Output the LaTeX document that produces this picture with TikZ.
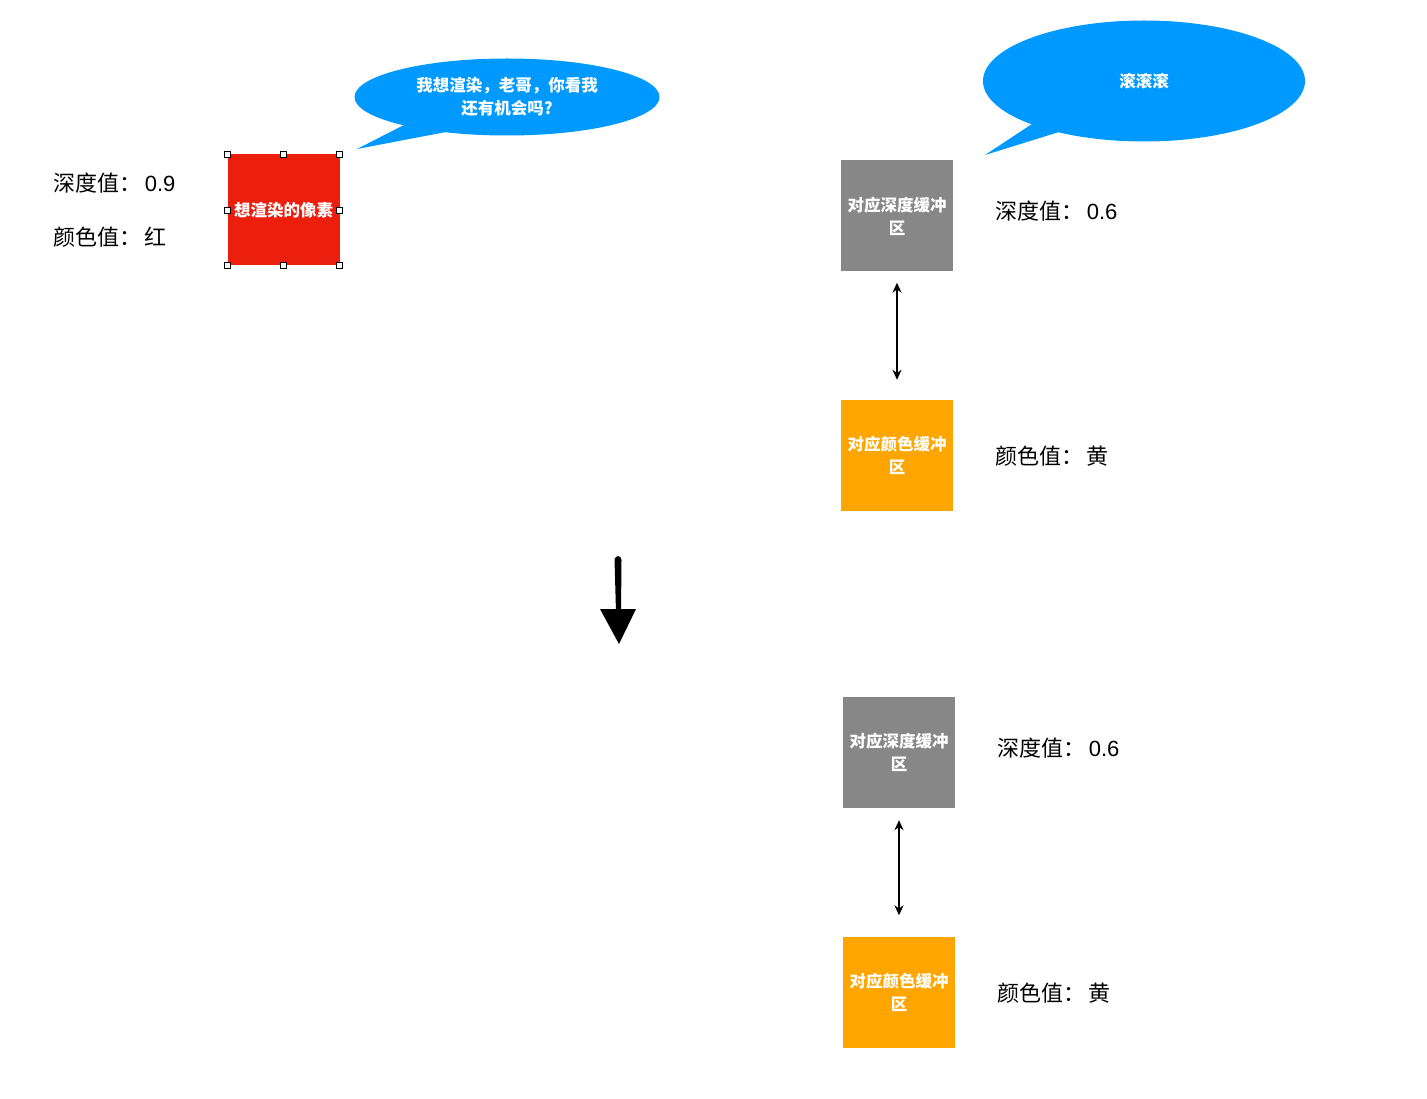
\documentclass[tikz,border=0pt]{standalone}
\usepackage{fontspec}
\setmainfont{Noto Sans CJK SC}
\newfontfamily\digitfont{Liberation Sans}
\usetikzlibrary{shapes.geometric,arrows.meta}
\definecolor{pxred}{HTML}{EC1F0E}
\definecolor{bubblue}{HTML}{0099FF}
\definecolor{bufgray}{HTML}{878787}
\definecolor{buforange}{HTML}{FFA500}
\tikzset{
  buf/.style={minimum width=112pt,minimum height=111pt,inner sep=0pt,align=center,
    text=white,font=\fontsize{16.5}{23}\selectfont\bfseries},
  graybuf/.style={buf,fill=bufgray},
  orangebuf/.style={buf,fill=buforange},
  redbox/.style={buf,fill=pxred},
  val/.style={anchor=west,inner sep=0pt,font=\fontsize{22}{26}\selectfont},
  bubble/.style={ellipse,fill=bubblue,inner sep=0pt,align=center,text=white,
    font=\fontsize{16.5}{23}\selectfont\bfseries},
  handle/.style={draw=black,fill=white,line width=0.9pt,minimum size=6pt,inner sep=0pt},
  dblarrow/.style={{Stealth[length=10pt,width=9pt]}-{Stealth[length=10pt,width=9pt]},line width=1.5pt}
}
\begin{document}
\begin{tikzpicture}[x=1pt,y=-1pt]
\useasboundingbox (0,0) rectangle (1427,1099);
\fill[white] (0,0) rectangle (1427,1099);

% left labels
\node[val] (d09) at (53,183) {深度值：\,{\digitfont 0.9}};
\node[val] (cred) at (53,237) {颜色值：\,红};

% red pixel box
\node[redbox] (px) at (283.5,210) {想渲染的像素};
\foreach \a in {north west,north,north east,west,east,south west,south,south east}
  \node[handle] (h-\a) at (px.\a) {};

% bubble 1
\fill[bubblue] (404,125) -- (357,149) -- (446,132) -- (507,97) -- cycle;
\node[bubble,minimum width=305pt,minimum height=77pt] (b1) at (507,97) {我想渲染，老哥，你看我\\还有机会吗?};

% bubble 2
\fill[bubblue] (1032,124) -- (985,155) -- (1059,132) -- (1144,81) -- cycle;
\node[bubble,minimum width=322pt,minimum height=121pt] (b2) at (1144,81) {滚滚滚};

% top right group
\node[graybuf] (g1) at (897,216) {对应深度缓冲\\区};
\node[orangebuf] (o1) at (897,455.5) {对应颜色缓冲\\区};
\draw[dblarrow] ([yshift=-11pt]g1.south) -- ([yshift=20pt]o1.north);
\node[val] (d1) at (995,211) {深度值：\,{\digitfont 0.6}};
\node[val] (c1) at (995,456) {颜色值：\,黄};

% big arrow
\coordinate (bigS) at (618,560);
\coordinate (bigE) at (618.5,612);
\fill (614.5,559) .. controls (616,555) and (621,555) .. (621.5,560)
  -- (621,612) -- (616,612) -- cycle;
\fill (600,609) -- (636,609) -- (619,644) -- cycle;

% bottom right group
\node[graybuf] (g2) at (899,752.5) {对应深度缓冲\\区};
\node[orangebuf] (o2) at (899,992) {对应颜色缓冲\\区};
\draw[dblarrow] ([yshift=-12pt]g2.south) -- ([yshift=21pt]o2.north);
\node[val] (d2) at (997,748) {深度值：\,{\digitfont 0.6}};
\node[val] (c2) at (997,993) {颜色值：\,黄};
\end{tikzpicture}
\end{document}
